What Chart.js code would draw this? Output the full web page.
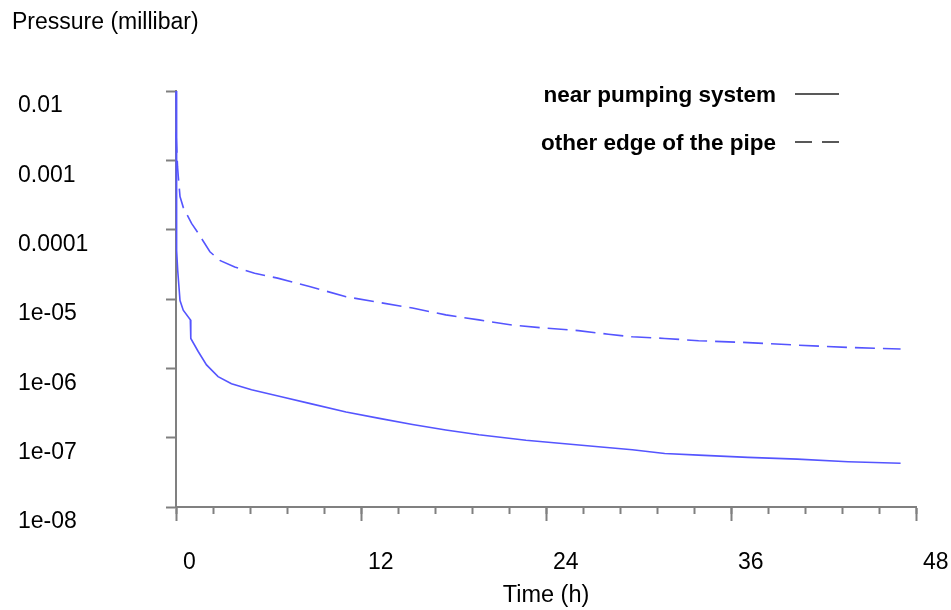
<!DOCTYPE html>
<html>
<head>
<meta charset="utf-8">
<title>Pressure vs time</title>
<script src="https://cdn.jsdelivr.net/npm/chart.js@4.4.0/dist/chart.umd.min.js"></script>
<style>
  body { margin: 0; background: #fff; }
</style>
</head>
<body>
<canvas id="myChart" width="951" height="610"></canvas>
<script>
// data (time in hours, pressure in millibar)
const nearTime = [0, 0.02, 0.06, 0.11, 0.26, 0.47, 0.93, 0.96, 1.44, 1.98, 2.73, 3.6, 4.9, 6.83, 8.72, 11.03, 13.19, 15.34, 17.5, 19.65, 22.7, 27.4, 29.6, 31.7, 33.9, 37.1, 40.3, 43.6, 47.0];
const nearPressure = [1e-2, 1.5e-4, 5e-5, 2.6e-5, 9.5e-6, 6.9e-6, 5.0e-6, 2.7e-6, 1.75e-6, 1.12e-6, 7.6e-7, 6.0e-7, 4.9e-7, 3.9e-7, 3.1e-7, 2.35e-7, 1.9e-7, 1.55e-7, 1.29e-7, 1.1e-7, 9.2e-8, 7.4e-8, 6.7e-8, 5.9e-8, 5.6e-8, 5.2e-8, 4.9e-8, 4.5e-8, 4.27e-8];

const edgeTime = [0, 0.1, 0.15, 0.26, 0.47, 1.01, 1.44, 2.2, 2.84, 3.81, 5.1, 6.59, 8.72, 11.03, 13.19, 15.34, 17.5, 19.65, 21.8, 23.96, 26.1, 28.05, 29.6, 31.7, 33.9, 37.1, 40.3, 43.6, 47.0];
const edgePressure = [2.5e-3, 8.1e-4, 5.8e-4, 3.0e-4, 2.1e-4, 1.23e-4, 8.9e-5, 4.8e-5, 3.6e-5, 2.9e-5, 2.35e-5, 2.0e-5, 1.5e-5, 1.08e-5, 8.9e-6, 7.4e-6, 5.9e-6, 5.0e-6, 4.2e-6, 3.8e-6, 3.5e-6, 3.1e-6, 2.85e-6, 2.7e-6, 2.5e-6, 2.35e-6, 2.16e-6, 2.0e-6, 1.9e-6];

const seriesNames = ['near pumping system', 'other edge of the pipe'];
const yTickValues = [1e-8, 1e-7, 1e-6, 1e-5, 1e-4, 1e-3, 1e-2];
const yTickLabels = ['1e-08', '1e-07', '1e-06', '1e-05', '0.0001', '0.001', '0.01'];
const xTickLabels = ['0', '12', '24', '36', '48'];

const FONT = "'Liberation Sans', Arial, sans-serif";
const AXIS_GREY = '#808080';
const LINE_BLUE = '#5555ff';

function toPoints(xs, ys) {
    return xs.map((x, i) => ({ x: x, y: ys[i] }));
}

// legend on the right + y axis title in the corner
const extraText = {
    id: 'extraText',
    afterDraw(chart) {
        const ctx = chart.ctx;
        ctx.save();
        ctx.fillStyle = '#000';
        ctx.font = '23px ' + FONT;
        ctx.textAlign = 'left';
        ctx.textBaseline = 'alphabetic';
        ctx.fillText('Pressure (millibar)', 12, 29);

        const rows = [94, 142];
        ctx.font = 'bold 22.5px ' + FONT;
        ctx.textAlign = 'right';
        chart.data.datasets.forEach((ds, i) => {
            const y = rows[i];
            ctx.fillStyle = '#000';
            ctx.fillText(ds.label, 776, y + 8);
            ctx.strokeStyle = '#222';
            ctx.lineWidth = 1.5;
            ctx.setLineDash(i === 0 ? [] : [17, 10]);
            ctx.beginPath();
            ctx.moveTo(795, y);
            ctx.lineTo(839, y);
            ctx.stroke();
        });
        ctx.restore();
    }
};

// keep the x axis from reserving room for its edge labels
function noSidePadding(scale) {
    scale.paddingLeft = 0;
    scale.paddingRight = 0;
}

const ctx = document.getElementById('myChart').getContext('2d');
const myChartInstance = new Chart(ctx, {
    type: 'line',
    data: {
        datasets: [{
            label: seriesNames[0],
            data: toPoints(nearTime, nearPressure),
            borderColor: LINE_BLUE,
            borderWidth: 1.6,
            pointRadius: 0,
            tension: 0,
            clip: 4
        }, {
            label: seriesNames[1],
            data: toPoints(edgeTime, edgePressure),
            borderColor: LINE_BLUE,
            borderWidth: 1.6,
            borderDash: [20, 8],
            pointRadius: 0,
            tension: 0,
            clip: 4
        }]
    },
    options: {
        responsive: false,
        animation: false,
        devicePixelRatio: 1,
        layout: { padding: { left: 18, top: 91, right: 35, bottom: 0 } },
        plugins: {
            legend: { display: false },
            tooltip: { enabled: false }
        },
        scales: {
            xMinor: {
                type: 'linear',
                position: 'bottom',
                weight: 0,
                min: 0,
                max: 48,
                ticks: { display: false, stepSize: 2.4, autoSkip: false },
                grid: { drawOnChartArea: false, tickLength: 7, tickColor: AXIS_GREY, tickWidth: 2 },
                border: { color: AXIS_GREY, width: 2 },
                afterFit(scale) { scale.height = 0; noSidePadding(scale); }
            },
            x: {
                type: 'linear',
                position: 'bottom',
                weight: 1,
                min: 0,
                max: 48,
                ticks: {
                    stepSize: 12,
                    align: 'start',
                    labelOffset: 7,
                    padding: 28,
                    color: '#000',
                    font: { family: FONT, size: 23 },
                    maxRotation: 0,
                    callback: (v) => xTickLabels[Math.round(v / 12)]
                },
                grid: { drawOnChartArea: false, tickLength: 14, tickColor: AXIS_GREY, tickWidth: 2 },
                border: { color: AXIS_GREY, width: 2 },
                title: {
                    display: true,
                    text: 'Time (h)',
                    color: '#000',
                    font: { family: FONT, size: 23.5 },
                    padding: { top: 0, bottom: 0 }
                },
                afterFit(scale) { scale.height = 103; noSidePadding(scale); }
            },
            y: {
                type: 'logarithmic',
                min: 1e-8,
                max: 1e-2,
                afterBuildTicks(scale) {
                    scale.ticks = yTickValues.map(v => ({ value: v }));
                },
                ticks: {
                    crossAlign: 'far',
                    labelOffset: 15,
                    color: '#000',
                    font: { family: FONT, size: 23 },
                    callback: (v) => yTickLabels[yTickValues.findIndex(t => Math.abs(Math.log10(t) - Math.log10(v)) < 1e-6)]
                },
                grid: { drawOnChartArea: false, tickLength: 10, tickColor: AXIS_GREY, tickWidth: 2 },
                border: { color: AXIS_GREY, width: 2 },
                afterFit(scale) { scale.width = 158; }
            }
        }
    },
    plugins: [extraText]
});
</script>
</body>
</html>
